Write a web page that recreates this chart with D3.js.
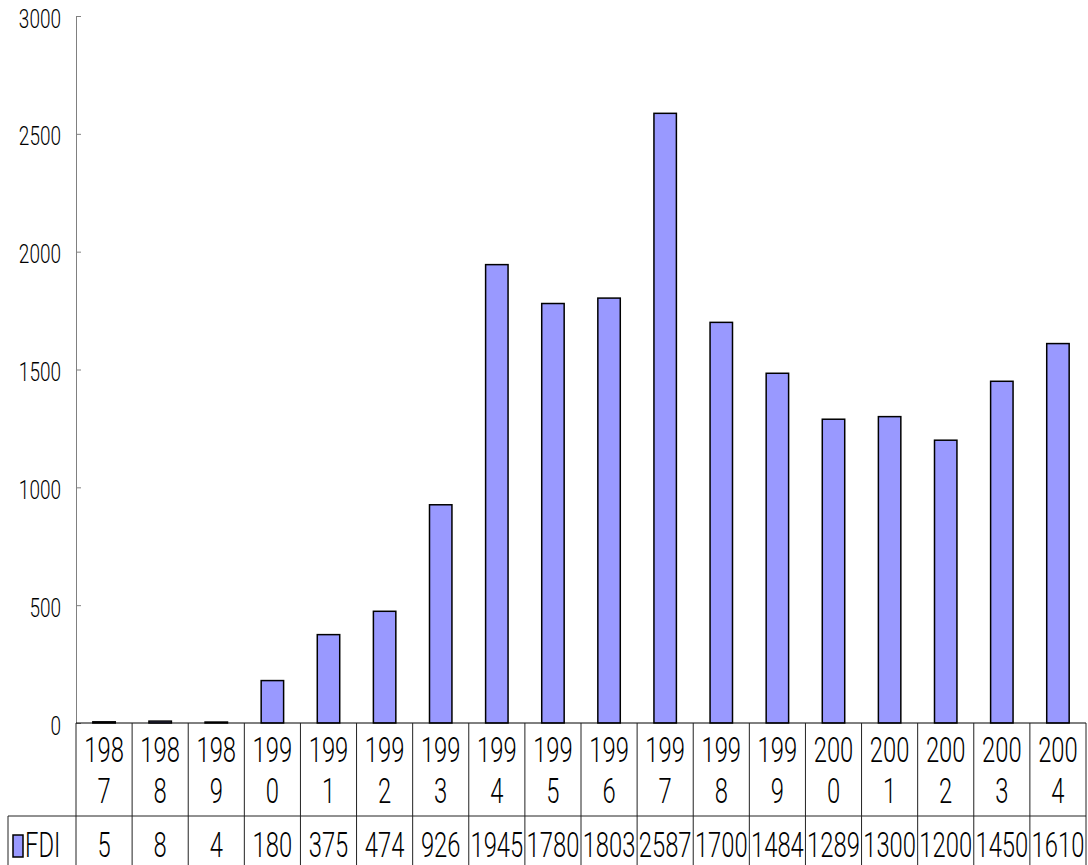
<!DOCTYPE html>
<html>
<head>
<meta charset="utf-8">
<script src="https://d3js.org/d3.v7.min.js"></script>
<style>
body { margin:0; background:#fff; }
text { font-family: Roboto, "Liberation Sans", Arial, sans-serif; font-weight:300; fill:#000; }
</style>
</head>
<body>
<svg width="1088" height="865"></svg>
<script>
var years = ["1987","1988","1989","1990","1991","1992","1993","1994","1995","1996","1997","1998","1999","2000","2001","2002","2003","2004"];
var fdi = [5, 8, 4, 180, 375, 474, 926, 1945, 1780, 1803, 2587, 1700, 1484, 1289, 1300, 1200, 1450, 1610];
var yTicks = [0, 500, 1000, 1500, 2000, 2500, 3000];
var seriesName = "FDI";

var svg = d3.select("svg");
var plotLeft = 76, plotRight = 1086, plotTop = 16, plotBase = 723;
var row1 = 816, row2 = 865, legendLeft = 8;

var ys = d3.scaleLinear().domain([0,3000]).range([plotBase, plotTop]);
var cols = d3.scaleBand().domain(years).range([plotLeft, plotRight]).padding(0);
var xs = d3.scaleBand().domain(years).range([plotLeft, plotRight]).paddingInner(0.6).paddingOuter(0.3);

// y axis
var yaxis = d3.axisLeft(ys).tickValues(yTicks).tickSize(-5).tickPadding(15).tickFormat(d3.format("d"));
var yg = svg.append("g").attr("transform","translate(" + plotLeft + ",0)").call(yaxis);
yg.select(".domain").attr("stroke","#808080");
yg.selectAll(".tick line").attr("stroke","#808080");
yg.selectAll(".tick text")
    .attr("x", null).attr("dy", null)
    .attr("transform","translate(-15,11) scale(0.76,1)")
    .style("font-size","25px")
    .style("font-family","Roboto, Liberation Sans, Arial, sans-serif")
    .style("font-weight","300")
    .attr("fill","#000");

// bars
svg.selectAll("rect.bar").data(fdi).enter().append("rect")
    .attr("class","bar")
    .attr("x", function(d,i) { return xs(years[i]); })
    .attr("width", xs.bandwidth())
    .attr("y", function(d) { return ys(d); })
    .attr("height", function(d) { return plotBase - ys(d); })
    .attr("fill","#9999FF")
    .attr("stroke","#000")
    .attr("stroke-width",1.5);

// data table
var grid = svg.append("g").attr("stroke","#222").attr("stroke-width",1);
grid.append("line").attr("x1",plotLeft).attr("x2",plotRight).attr("y1",plotBase).attr("y2",plotBase).attr("stroke","#000");
grid.append("line").attr("x1",legendLeft).attr("x2",plotRight).attr("y1",row1).attr("y2",row1);
grid.append("line").attr("x1",legendLeft).attr("x2",legendLeft).attr("y1",row1).attr("y2",row2);
var edges = years.map(function(y) { return cols(y); }).concat([plotRight]);
grid.selectAll("line.col").data(edges).enter().append("line")
    .attr("class","col")
    .attr("x1", function(d) { return d; }).attr("x2", function(d) { return d; })
    .attr("y1", plotBase).attr("y2", row2);

function label(x, y, txt, size, sx) {
    svg.append("text")
        .attr("transform","translate(" + x + "," + y + ") scale(" + sx + ",1)")
        .attr("text-anchor","middle")
        .style("font-size", size + "px")
        .text(txt);
}

years.forEach(function(y, i) {
    var cx = cols(y) + cols.bandwidth() / 2;
    label(cx, 762, y.slice(0,3), 35, 0.68);
    label(cx, 803, y.slice(3), 35, 0.68);
    label(cx, 857, fdi[i], 35, 0.68);
});

// legend key
svg.append("rect").attr("x",13).attr("y",835).attr("width",10).attr("height",22)
    .attr("fill","#9999FF").attr("stroke","#000").attr("stroke-width",1.5);
svg.append("text")
    .attr("transform","translate(25,857) scale(0.68,1)")
    .style("font-size","35px")
    .text(seriesName);
</script>
</body>
</html>
